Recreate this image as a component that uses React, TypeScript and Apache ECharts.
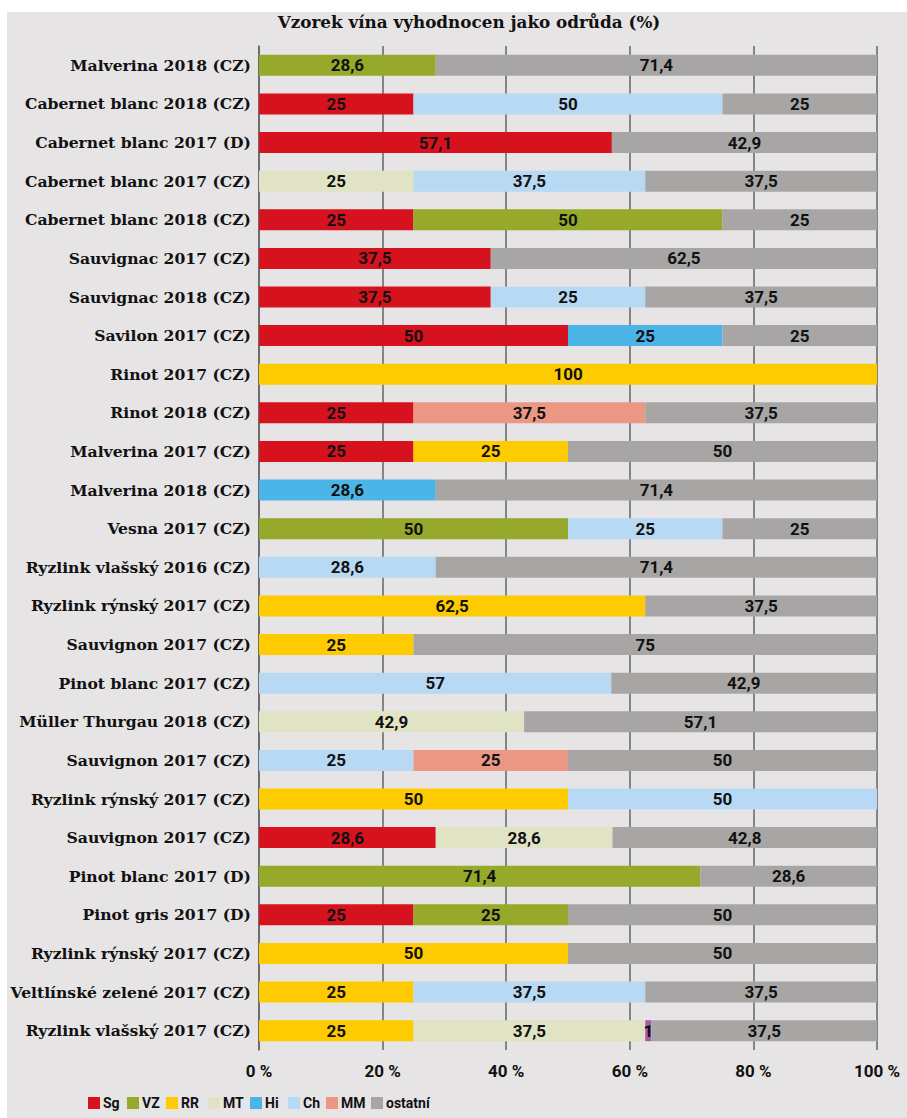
import React, { useEffect, useRef } from "react";
import * as echarts from "echarts";

const categories = [
  "Malverina 2018 (CZ)",
  "Cabernet blanc 2018 (CZ)",
  "Cabernet blanc 2017 (D)",
  "Cabernet blanc 2017 (CZ)",
  "Cabernet blanc 2018 (CZ)",
  "Sauvignac 2017 (CZ)",
  "Sauvignac 2018 (CZ)",
  "Savilon 2017 (CZ)",
  "Rinot 2017 (CZ)",
  "Rinot 2018 (CZ)",
  "Malverina 2017 (CZ)",
  "Malverina 2018 (CZ)",
  "Vesna 2017 (CZ)",
  "Ryzlink vlašský 2016 (CZ)",
  "Ryzlink rýnský 2017 (CZ)",
  "Sauvignon 2017 (CZ)",
  "Pinot blanc 2017 (CZ)",
  "Müller Thurgau 2018 (CZ)",
  "Sauvignon 2017 (CZ)",
  "Ryzlink rýnský 2017 (CZ)",
  "Sauvignon 2017 (CZ)",
  "Pinot blanc 2017 (D)",
  "Pinot gris 2017 (D)",
  "Ryzlink rýnský 2017 (CZ)",
  "Veltlínské zelené 2017 (CZ)",
  "Ryzlink vlašský 2017 (CZ)",
];

const sg = [null, 25, 57.1, null, 25, 37.5, 37.5, 50, null, 25, 25, null, null, null, null, null, null, null, null, null, 28.6, null, 25, null, null, null];
const vz = [28.6, null, null, null, 50, null, null, null, null, null, null, null, 50, null, null, null, null, null, null, null, null, 71.4, 25, null, null, null];
const rr = [null, null, null, null, null, null, null, null, 100, null, 25, null, null, null, 62.5, 25, null, null, null, 50, null, null, null, 50, 25, 25];
const mt = [null, null, null, 25, null, null, null, null, null, null, null, null, null, null, null, null, null, 42.9, null, null, 28.6, null, null, null, null, 37.5];
const hi = [null, null, null, null, null, null, null, 25, null, null, null, 28.6, null, null, null, null, null, null, null, null, null, null, null, null, null, null];
const ch = [null, 50, null, 37.5, null, null, 25, null, null, null, null, null, 25, 28.6, null, null, 57, null, 25, 50, null, null, null, null, 37.5, null];
const mm = [null, null, null, null, null, null, null, null, null, 37.5, null, null, null, null, null, null, null, null, 25, null, null, null, null, null, null, null];
const other1 = [null, null, null, null, null, null, null, null, null, null, null, null, null, null, null, null, null, null, null, null, null, null, null, null, null, 1];
const ostatni = [71.4, 25, 42.9, 37.5, 25, 62.5, 37.5, 25, null, 37.5, 50, 71.4, 25, 71.4, 37.5, 75, 42.9, 57.1, 50, null, 42.8, 28.6, 50, 50, 37.5, 37.5];

const xTicks = [0, 20, 40, 60, 80, 100];
const legendNames = ["Sg", "VZ", "RR", "MT", "Hi", "Ch", "MM", "ostatní"];

const seriesDefs = [
  { name: "Sg", data: sg, color: "#d7121f" },
  { name: "VZ", data: vz, color: "#96a92a" },
  { name: "RR", data: rr, color: "#fecb00" },
  { name: "MT", data: mt, color: "#e1e3c5" },
  { name: "Hi", data: hi, color: "#4ab5e6" },
  { name: "Ch", data: ch, color: "#b7d9f3" },
  { name: "MM", data: mm, color: "#ec9784" },
  { name: "jiné", data: other1, color: "#a65ba6" },
  { name: "ostatní", data: ostatni, color: "#a8a6a4" },
];

const legendLeft = [88, 127, 166, 208, 250, 288, 326, 371];

const NUM_FONT = "'Roboto', 'Liberation Sans', sans-serif";
const SERIF_FONT = "'DejaVu Serif', serif";

export default function App() {
  const ref = useRef<HTMLDivElement>(null);
  useEffect(() => {
    if (!ref.current) return;
    const chart = echarts.init(ref.current, null, { renderer: "svg" });
    chart.setOption({
      animation: false,
      backgroundColor: "#ffffff",
      graphic: [
        { type: "rect", z: -10, shape: { x: 7, y: 12, width: 900, height: 1106 }, style: { fill: "#e6e4e5" } },
        {
          type: "text",
          x: 469,
          y: 22,
          style: {
            text: "Vzorek vína vyhodnocen jako odrůda (%)",
            font: `bold 16.8px ${SERIF_FONT}`,
            fill: "#111",
            align: "center",
            verticalAlign: "middle",
          },
        },
      ],
      legend: legendNames.map((n, i) => ({
        left: legendLeft[i],
        top: 1096,
        padding: 0,
        itemWidth: 12,
        itemHeight: 12,
        itemGap: 0,
        icon: "rect",
        data: [n],
        textStyle: { fontFamily: NUM_FONT, fontWeight: "bold", fontSize: 14, color: "#111", padding: [0, 0, 0, -2] },
      })),
      grid: { left: 259, right: 30, top: 46, height: 1004 },
      xAxis: {
        type: "value",
        min: 0,
        max: 100,
        interval: 20,
        axisLine: { show: false },
        axisTick: { show: false },
        splitLine: { show: true, lineStyle: { color: "#666", width: 1.5 } },
        axisLabel: {
          formatter: (v: number) => (xTicks.includes(v) ? `${v} %` : ""),
          fontFamily: NUM_FONT,
          fontWeight: "bold",
          fontSize: 17,
          color: "#111",
          margin: 12,
        },
      },
      yAxis: {
        type: "category",
        inverse: true,
        data: categories,
        axisLine: { show: true, lineStyle: { color: "#666", width: 1.5 } },
        axisTick: { show: false },
        axisLabel: {
          fontFamily: SERIF_FONT,
          fontWeight: "bold",
          fontSize: 15.6,
          color: "#111",
          margin: 8,
        },
      },
      series: seriesDefs.map((s) => ({
        name: s.name,
        type: "bar",
        stack: "total",
        barWidth: 21,
        data: s.data,
        itemStyle: { color: s.color },
        label: {
          show: true,
          position: "inside",
          formatter: (p: any) => String(p.value).replace(".", ","),
          fontFamily: NUM_FONT,
          fontWeight: "bold",
          fontSize: 17,
          color: "#111",
        },
      })),
    });
    return () => chart.dispose();
  }, []);
  return <div ref={ref} style={{ position: "absolute", left: 0, top: 0, width: 907, height: 1118 }} />;
}
